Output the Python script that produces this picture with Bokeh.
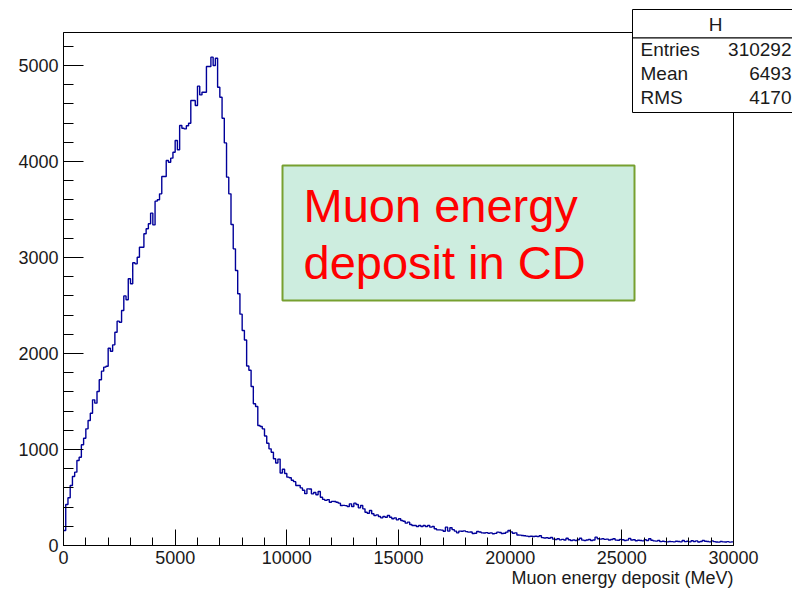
from bokeh.plotting import figure
from bokeh.models import Range1d, FixedTicker, BoxAnnotation, Label
from bokeh.embed import file_html
from bokeh.resources import INLINE

# ---------------- data ----------------
bin_width = 100
x_lo, x_hi = 0, 30000
counts = [
    156, 427, 497, 625, 719, 764, 885, 920, 1049, 1118,
    1215, 1302, 1378, 1517, 1483, 1604, 1726, 1816, 1858, 1868,
    2055, 2024, 2090, 2222, 2337, 2326, 2448, 2600, 2560, 2778,
    2726, 2945, 2934, 3003, 3107, 3107, 3247, 3299, 3351, 3462,
    3340, 3587, 3601, 3663, 3844, 3844, 4010, 3993, 4035, 4097,
    4219, 4122, 4375, 4347, 4340, 4372, 4399, 4635, 4635, 4583,
    4785, 4694, 4722, 4722, 4990, 4990, 5087, 5000, 5076, 4774,
    4670, 4451, 4194, 3837, 3663, 3344, 3090, 2865, 2622, 2410,
    2240, 2140, 1870, 1825, 1656, 1476, 1448, 1250, 1240, 1215,
    1140, 1065, 1007, 972, 903, 860, 900, 755, 795, 750,
    712, 705, 680, 665, 625, 625, 600, 575, 540, 590,
    588, 538, 552, 528, 563, 503, 480, 470, 478, 451,
    460, 458, 451, 441, 417, 418, 415, 406, 434, 406,
    441, 427, 392, 417, 382, 347, 336, 365, 330, 313,
    319, 302, 288, 302, 295, 313, 295, 278, 288, 267,
    278, 260, 253, 233, 243, 219, 208, 208, 198, 208,
    198, 208, 198, 208, 191, 198, 174, 163, 163, 160,
    149, 191, 150, 185, 165, 150, 132, 150, 148, 152,
    145, 139, 140, 125, 128, 146, 140, 132, 130, 134,
    128, 131, 122, 126, 139, 135, 125, 128, 139, 156,
    142, 128, 132, 110, 108, 104, 101, 98, 94, 96,
    94, 97, 94, 101, 82, 78, 80, 76, 84, 66,
    62, 70, 59, 64, 58, 76, 60, 52, 58, 52,
    60, 76, 56, 52, 58, 62, 52, 58, 87, 70,
    66, 70, 64, 66, 58, 62, 70, 56, 55, 64,
    60, 52, 56, 74, 58, 60, 50, 55, 52, 48,
    60, 52, 70, 55, 48, 46, 52, 40, 44, 40,
    38, 42, 40, 38, 45, 42, 38, 52, 40, 44,
    38, 50, 42, 48, 36, 42, 52, 45, 42, 38,
    48, 40, 36, 35, 42, 38, 36, 40, 35, 38,
]
edges = [x_lo + i * bin_width for i in range(len(counts) + 1)]
y_top = 5344

x_major = [0, 5000, 10000, 15000, 20000, 25000, 30000]
y_major = [0, 1000, 2000, 3000, 4000, 5000]
x_minor = [v for v in range(0, x_hi + 1, 1000) if v % 5000]
y_minor = [v for v in range(0, y_top, 200) if v % 1000]

stats_title = "H"
stats_names = ["Entries", "Mean", "RMS"]
stats_values = ["310292", "6493", "4170"]
x_title = "Muon energy deposit (MeV)"
note_lines = ["Muon energy", "deposit in CD"]

# ---------------- layout ----------------
W, H = 792, 589
L, R, T, B = 63, 59, 32, 44          # where the histogram frame sits in the canvas
FW, FH = W - L - R, H - T - B
FONT = "Liberation Sans"
TXT = "#1a1a1a"


def dx(px):
    return x_lo + (px - L) / FW * (x_hi - x_lo)


def dy(py):
    return (H - B - py) / FH * y_top


p = figure(
    width=W, height=H,
    x_range=Range1d(dx(0), dx(W)), y_range=Range1d(dy(H), dy(0)),
    output_backend="svg", toolbar_location=None,
    min_border_left=0, min_border_right=0, min_border_top=0, min_border_bottom=0,
)
p.background_fill_color = "white"
p.border_fill_color = "white"
p.outline_line_color = None
p.xgrid.visible = False
p.ygrid.visible = False

# histogram outline
p.step(edges, counts + [counts[-1]], mode="after", line_color="#000099", line_width=1.4)

# axes, placed at the data origin
p.xaxis.fixed_location = 0
p.yaxis.fixed_location = 0
p.xaxis.bounds = (x_lo, x_hi)
p.yaxis.bounds = (0, y_top)
p.xaxis.ticker = FixedTicker(ticks=x_major, minor_ticks=x_minor)
p.yaxis.ticker = FixedTicker(ticks=y_major, minor_ticks=y_minor)
for ax in (p.xaxis, p.yaxis):
    ax.axis_line_color = "black"
    ax.major_tick_line_color = "black"
    ax.minor_tick_line_color = "black"
    ax.major_tick_out = 0
    ax.minor_tick_out = 0
    ax.major_label_text_font = FONT
    ax.major_label_text_font_size = "18px"
    ax.major_label_text_color = TXT
    ax.major_label_standoff = 5
p.xaxis.major_tick_in = 16
p.xaxis.minor_tick_in = 8
p.yaxis.major_tick_in = 20
p.yaxis.minor_tick_in = 10

# frame box (top and right sides)
p.add_layout(BoxAnnotation(left=x_lo, right=x_hi, bottom=0, top=y_top,
                           fill_alpha=0, line_color="black", line_width=1, line_alpha=1.0))

# x-axis title (right aligned, ROOT style)
p.add_layout(Label(x=x_hi, y=dy(577), text=x_title, text_align="right",
                   text_baseline="middle", text_font=FONT,
                   text_font_size="18px", text_color=TXT))

# note box
p.add_layout(BoxAnnotation(left=dx(282), right=dx(634), top=dy(165), bottom=dy(300),
                           fill_color="#cdeddf", fill_alpha=1.0,
                           line_color="#77a030", line_width=2, line_alpha=1.0))
for i, line in enumerate(note_lines):
    p.add_layout(Label(x=dx(303), y=dy(205 + i * 56.6), text=line,
                       text_align="left", text_baseline="middle",
                       text_font=FONT, text_font_size="47px", text_color="#ff0000"))

# stats box
p.add_layout(BoxAnnotation(left=dx(632), right=dx(800), top=dy(9), bottom=dy(37.5),
                           fill_color="white", fill_alpha=1.0,
                           line_color="black", line_width=1, line_alpha=1.0,
                           level="overlay"))
p.add_layout(BoxAnnotation(left=dx(632), right=dx(800), top=dy(37.5), bottom=dy(112),
                           fill_color="white", fill_alpha=1.0,
                           line_color="black", line_width=1, line_alpha=1.0,
                           level="overlay"))
p.add_layout(Label(x=dx(715), y=dy(24), text=stats_title, text_align="center",
                   text_baseline="middle", text_font=FONT, text_font_size="19px",
                   text_color=TXT, level="overlay"))
for i, (nm, val) in enumerate(zip(stats_names, stats_values)):
    yy = dy(49 + i * 24)
    p.add_layout(Label(x=dx(640), y=yy, text=nm, text_align="left",
                       text_baseline="middle", text_font=FONT, text_font_size="19px",
                       text_color=TXT, level="overlay"))
    p.add_layout(Label(x=dx(791), y=yy, text=val, text_align="right",
                       text_baseline="middle", text_font=FONT, text_font_size="19px",
                       text_color=TXT, level="overlay"))

open("out.html", "w").write(file_html(p, INLINE))
